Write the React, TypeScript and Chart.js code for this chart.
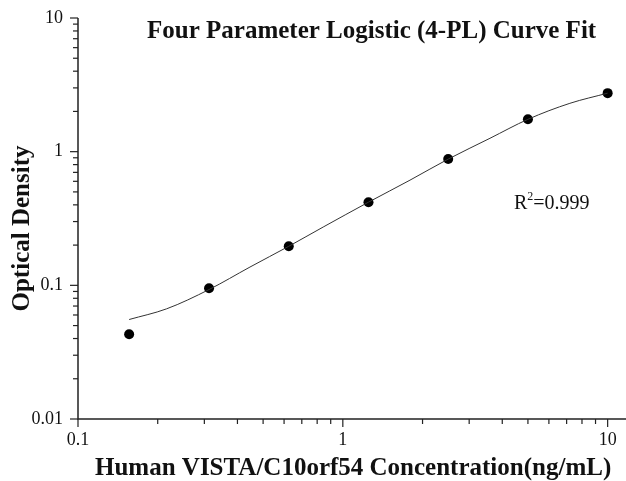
import React, { useEffect, useRef } from "react";
import { Chart, registerables } from "chart.js";

Chart.register(...registerables);

const concentrations = [0.156, 0.3125, 0.625, 1.25, 2.5, 5, 10];
const opticalDensity = [0.043, 0.095, 0.196, 0.419, 0.88, 1.75, 2.74];

const curveX = [0.156, 0.216, 0.3125, 0.446, 0.625, 0.843, 1.25, 1.793, 2.5, 3.594, 5, 7.2, 10];
const curveY = [0.0555, 0.0667, 0.093, 0.137, 0.196, 0.273, 0.419, 0.612, 0.88, 1.259, 1.746, 2.3, 2.74];

const xMajorTicks = [0.1, 1, 10];
const xMinorTicks = [0.2, 0.3, 0.4, 0.5, 0.6, 0.7, 0.8, 0.9, 2, 3, 4, 5, 6, 7, 8, 9];
const yMajorTicks = [0.01, 0.1, 1, 10];
const yMinorTicks = [0.02, 0.03, 0.04, 0.05, 0.06, 0.07, 0.08, 0.09, 0.2, 0.3, 0.4, 0.5, 0.6, 0.7, 0.8, 0.9, 2, 3, 4, 5, 6, 7, 8, 9];

const titleText = "Four Parameter Logistic (4-PL) Curve Fit";
const xTitle = "Human VISTA/C10orf54 Concentration(ng/mL)";
const yTitle = "Optical Density";
const r2Value = "=0.999";

const SERIF = "'Liberation Serif', 'Times New Roman', serif";

const decorPlugin = {
  id: "decor",
  afterDraw(chart: any) {
    const ctx = chart.ctx;
    const xs = chart.scales.x;
    const ys = chart.scales.y;
    const area = chart.chartArea;
    ctx.save();
    ctx.strokeStyle = "#222";
    ctx.lineWidth = 1.5;
    ctx.beginPath();
    ctx.moveTo(area.left, area.top);
    ctx.lineTo(area.left, area.bottom);
    ctx.lineTo(area.right, area.bottom);
    ctx.stroke();
    ctx.lineWidth = 1.2;
    const tick = (v: number, len: number, horiz: boolean) => {
      ctx.beginPath();
      if (horiz) {
        const p = xs.getPixelForValue(v);
        ctx.moveTo(p, area.bottom);
        ctx.lineTo(p, area.bottom + len);
      } else {
        const p = ys.getPixelForValue(v);
        ctx.moveTo(area.left, p);
        ctx.lineTo(area.left - len, p);
      }
      ctx.stroke();
    };
    yMajorTicks.forEach((v) => tick(v, 8, false));
    yMinorTicks.forEach((v) => tick(v, 5, false));
    xMajorTicks.forEach((v) => tick(v, 8, true));
    xMinorTicks.forEach((v) => tick(v, 5, true));

    ctx.fillStyle = "#111";
    ctx.font = `bold 25px ${SERIF}`;
    ctx.textAlign = "left";
    ctx.textBaseline = "alphabetic";
    ctx.fillText(titleText, 147, 38);
    ctx.fillText(xTitle, 95, 475);
    ctx.save();
    ctx.translate(29, 228.5);
    ctx.rotate(-Math.PI / 2);
    ctx.textAlign = "center";
    ctx.fillText(yTitle, 0, 0);
    ctx.restore();
    ctx.textAlign = "left";
    ctx.font = `20px ${SERIF}`;
    ctx.fillText("R", 514, 209);
    const rw = ctx.measureText("R").width;
    ctx.font = `12px ${SERIF}`;
    ctx.fillText("2", 514 + rw, 200);
    const sw = ctx.measureText("2").width;
    ctx.font = `20px ${SERIF}`;
    ctx.fillText(r2Value, 514 + rw + sw, 209);
    ctx.restore();
  },
};

export default function App() {
  const ref = useRef<HTMLCanvasElement>(null);
  useEffect(() => {
    if (!ref.current) return;
    const chart = new Chart(ref.current, {
      type: "scatter",
      data: {
        datasets: [
          {
            label: "fit",
            data: curveX.map((x, i) => ({ x, y: curveY[i] })),
            showLine: true,
            borderColor: "#333",
            borderWidth: 1,
            pointRadius: 0,
            cubicInterpolationMode: "monotone",
            fill: false,
          },
          {
            label: "data",
            data: concentrations.map((x, i) => ({ x, y: opticalDensity[i] })),
            showLine: false,
            pointRadius: 5,
            pointBackgroundColor: "#000",
            pointBorderColor: "#000",
            pointBorderWidth: 0,
          },
        ],
      },
      options: {
        responsive: false,
        animation: false,
        layout: { autoPadding: false, padding: { top: 18, right: 0, left: 0, bottom: 0 } },
        plugins: { legend: { display: false }, tooltip: { enabled: false }, title: { display: false } },
        scales: {
          x: {
            type: "logarithmic",
            min: 0.1,
            max: 11.73,
            grid: { display: false, drawTicks: false },
            border: { display: false },
            afterBuildTicks: (s: any) => {
              s.ticks = xMajorTicks.map((v) => ({ value: v }));
            },
            afterFit: (s: any) => {
              s.height = 62;
              s.paddingLeft = 0;
              s.paddingRight = 0;
            },
            ticks: {
              autoSkip: false,
              maxRotation: 0,
              padding: 10,
              color: "#111",
              font: { family: SERIF, size: 18 },
              callback: (v: any) => String(v),
            },
          },
          y: {
            type: "logarithmic",
            min: 0.01,
            max: 10,
            grid: { display: false, drawTicks: false },
            border: { display: false },
            afterBuildTicks: (s: any) => {
              s.ticks = yMajorTicks.map((v) => ({ value: v }));
            },
            afterFit: (s: any) => {
              s.width = 78;
              s.paddingTop = 0;
              s.paddingBottom = 0;
            },
            ticks: {
              autoSkip: false,
              padding: 15,
              color: "#111",
              font: { family: SERIF, size: 18 },
              callback: (v: any) => String(v),
            },
          },
        },
      },
      plugins: [decorPlugin],
    });
    return () => chart.destroy();
  }, []);
  return (
    <div style={{ position: "absolute", left: 0, top: 0, width: 626, height: 481, background: "#fff" }}>
      <canvas ref={ref} width={626} height={481} style={{ display: "block" }} />
    </div>
  );
}
